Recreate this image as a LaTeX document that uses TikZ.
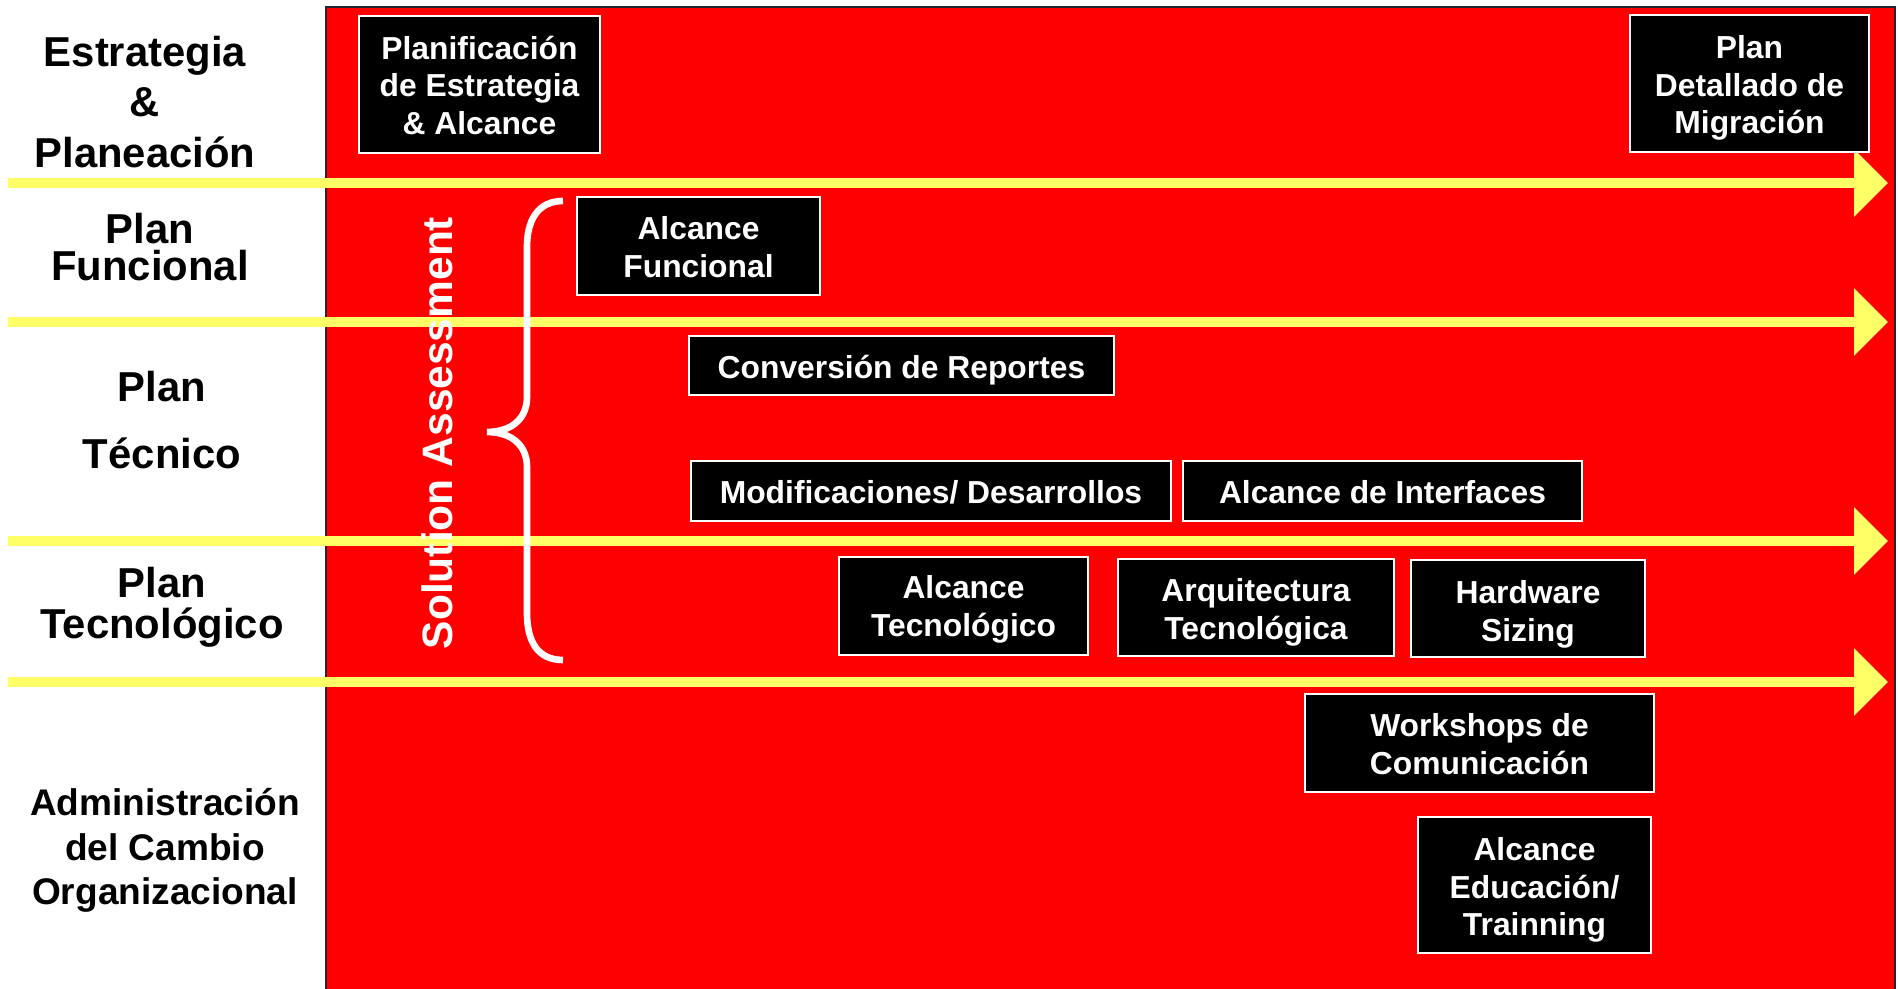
\documentclass[tikz,border=0pt]{standalone}
\usepackage{fontspec}
\setmainfont{Liberation Sans}
\usetikzlibrary{arrows.meta}
\definecolor{panelred}{RGB}{255,0,0}
\definecolor{laneyellow}{RGB}{255,255,102}
\definecolor{paneledge}{RGB}{30,38,52}
\tikzset{
  stagebox/.style={draw=white, line width=0.9pt, fill=black},
  stagetext/.style={text=white, align=center, inner sep=0pt, font=\bfseries\fontsize{18.1}{21.5}\selectfont},
  lane/.style={draw=laneyellow, line width=6.2pt, -{Triangle[length=19.3pt,width=37.4pt]}},
  phase/.style={align=center, font=\bfseries\fontsize{23.8}{#1}\selectfont},
}
\begin{document}
\begin{tikzpicture}[x=0.02cm, y=-0.02cm]
\useasboundingbox (0,0) rectangle (1898,989);
\filldraw[fill=panelred, draw=paneledge, line width=1.2pt] (326,7) rectangle (1895,995);
\draw[lane] (8,183)--(1888,183);
\draw[lane] (8,322)--(1888,322);
\draw[lane] (8,541)--(1888,541);
\draw[lane] (8,682)--(1888,682);
\draw[white, line width=3.8pt] (563,201) .. controls (538,201) and (527,220) .. (527,247) -- (527,397)
  .. controls (527,420) and (510,432) .. (487,432) .. controls (510,432) and (527,444) .. (527,467)
  -- (527,613) .. controls (527,642) and (538,660) .. (563,660);
\node[rotate=90, text=white, font=\bfseries\fontsize{24.2}{27}\selectfont] (assess) at (437,433) {Solution Assessment};
\node[phase=28.9pt] (estr) at (145,102) {Estrategia\\\&\\Planeación};
\node[phase=20.6pt] (func) at (150,247) {Plan\\Funcional};
\node[phase=38.5pt] (tecn) at (162,420) {Plan\\Técnico};
\node[phase=23.2pt] (tecg) at (162,607.5) {Plan\\Tecnológico};
\node[align=center, font=\bfseries\fontsize{21.1}{25.5}\selectfont] (admin) at (165,850.5) {Administración\\del Cambio\\Organizacional};
\draw[stagebox] (359,16) rectangle (600,153);
\node[stagetext] (planif) at (479.5,85.5) {Planificación\\de Estrategia\\\& Alcance};
\draw[stagebox] (1630,15) rectangle (1869,152);
\node[stagetext] (migra) at (1749.5,88) {Plan\\Detallado de\\Migración};
\draw[stagebox] (577,197) rectangle (820,295);
\node[stagetext] (alcfunc) at (698.5,247) {Alcance\\Funcional};
\draw[stagebox] (689,336) rectangle (1114,395);
\node[stagetext] (conv) at (901.5,370.5) {Conversión de Reportes};
\draw[stagebox] (691,461) rectangle (1171,521);
\node[stagetext] (modif) at (931,492) {Modificaciones/ Desarrollos};
\draw[stagebox] (1183,461) rectangle (1582,521);
\node[stagetext] (interf) at (1382.5,492) {Alcance de Interfaces};
\draw[stagebox] (839,557) rectangle (1088,655);
\node[stagetext] (alctec) at (963.5,609.5) {Alcance\\Tecnológico};
\draw[stagebox] (1118,559) rectangle (1394,656);
\node[stagetext] (arqui) at (1256,612.5) {Arquitectura\\Tecnológica};
\draw[stagebox] (1411,560) rectangle (1645,657);
\node[stagetext] (hware) at (1528,614) {Hardware\\Sizing};
\draw[stagebox] (1305,694) rectangle (1654,792);
\node[stagetext] (works) at (1479.5,744) {Workshops de\\Comunicación};
\draw[stagebox] (1418,817) rectangle (1651,953);
\node[stagetext] (educ) at (1534.5,890) {Alcance\\Educación/\\Trainning};
\end{tikzpicture}
\end{document}
